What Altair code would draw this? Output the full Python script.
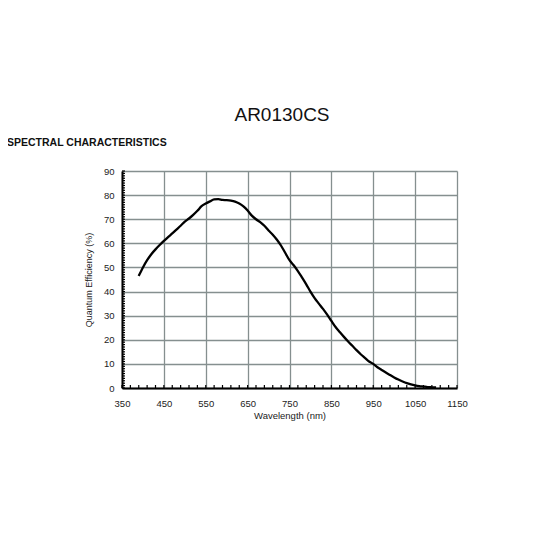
import altair as alt
import pandas as pd

# headings
chart_title = "AR0130CS"
section_title = "SPECTRAL CHARACTERISTICS"

# curve
wavelength = [390, 400, 410, 420, 430, 440, 450, 460, 470, 480, 490, 500, 510, 520,
              530, 540, 550, 560, 570, 580, 590, 600, 610, 620, 630, 640, 650, 660,
              670, 680, 690, 700, 710, 720, 730, 740, 750, 760, 770, 780, 790, 800,
              810, 820, 830, 840, 850, 860, 870, 880, 890, 900, 910, 920, 930, 940,
              950, 960, 970, 980, 990, 1000, 1010, 1020, 1030, 1040, 1050, 1060,
              1070, 1080, 1090, 1100]
qe = [46.5, 50.0, 53.0, 55.5, 57.5, 59.3, 61.0, 62.6, 64.1, 65.7, 67.3, 69.0, 70.3,
      71.8, 73.5, 75.4, 76.5, 77.4, 78.2, 78.3, 78.0, 77.9, 77.7, 77.3, 76.5, 75.3,
      73.6, 71.5, 70.0, 68.8, 67.3, 65.3, 63.6, 61.5, 59.0, 56.0, 53.0, 50.9, 48.5,
      45.8, 43.0, 40.0, 37.3, 35.0, 32.8, 30.4, 27.8, 25.3, 23.2, 21.2, 19.3, 17.5,
      15.7, 14.0, 12.5, 11.0, 10.0, 8.6, 7.5, 6.4, 5.4, 4.4, 3.5, 2.7, 2.0, 1.5, 1.1,
      0.8, 0.6, 0.4, 0.3, 0.2]

x_ticks = [350, 450, 550, 650, 750, 850, 950, 1050, 1150]
y_ticks = [0, 10, 20, 30, 40, 50, 60, 70, 80, 90]
x_minor = list(range(350, 1151, 20))
y_minor = list(range(0, 91, 1))

W, H = 335, 217
FONT = "Liberation Sans"
GRID = "#858f8f"

xs = alt.Scale(domain=[350, 1150], nice=False, zero=False)
ys = alt.Scale(domain=[0, 90], nice=False)

common = dict(grid=True, gridColor=GRID, gridWidth=1.3, gridOpacity=1, tickSize=0,
              domainColor="black", domainWidth=2, labelFontSize=9.5, labelFont=FONT,
              labelColor="#222", labelFlush=False, labelOverlap=False,
              titleFont=FONT, titleFontWeight="normal", titleColor="#222")
x_axis = alt.Axis(values=x_ticks, labelPadding=10, titleFontSize=9.5,
                  titlePadding=3, format="d", **common)
y_axis = alt.Axis(values=y_ticks, labelPadding=8, titleFontSize=9,
                  titlePadding=10, format="d", **common)
x_title = "Wavelength (nm)"
y_title = "Quantum Efficiency (%)"

curve = pd.DataFrame({"nm": wavelength, "qe": qe})

line = alt.Chart(curve).mark_line(
    color="black", strokeWidth=2.3, interpolate="monotone"
).encode(
    x=alt.X("nm:Q", scale=xs, title=x_title, axis=x_axis),
    y=alt.Y("qe:Q", scale=ys, title=y_title, axis=y_axis),
)

ytick_layer = alt.Chart(pd.DataFrame({"qe": y_minor})).mark_rule(
    color="black", strokeWidth=1.2
).encode(
    y=alt.Y("qe:Q", scale=ys, title=y_title, axis=y_axis),
    x=alt.value(0), x2=alt.value(3),
)

xtick_layer = alt.Chart(pd.DataFrame({"nm": x_minor})).mark_rule(
    color="black", strokeWidth=1.2
).encode(
    x=alt.X("nm:Q", scale=xs, title=x_title, axis=x_axis),
    y=alt.value(H), y2=alt.value(H - 3),
)

head = alt.Chart(pd.DataFrame({"t": [chart_title]})).mark_text(
    font=FONT, fontSize=19, color="#111", align="center", baseline="middle"
).encode(text="t:N", x=alt.value(160), y=alt.value(-56))

section = alt.Chart(pd.DataFrame({"t": [section_title]})).mark_text(
    font=FONT, fontSize=10.5, fontWeight="bold", color="#111", align="left",
    baseline="middle"
).encode(text="t:N", x=alt.value(-115), y=alt.value(-28))

chart = alt.layer(line, ytick_layer, xtick_layer, head, section).properties(
    width=W, height=H,
    autosize=alt.AutoSizeParams(type="none"),
    padding={"left": 114, "top": 163, "right": 80, "bottom": 140},
).configure_view(stroke=None)

chart.save("out.html", embed_options={"renderer": "svg", "actions": False})
